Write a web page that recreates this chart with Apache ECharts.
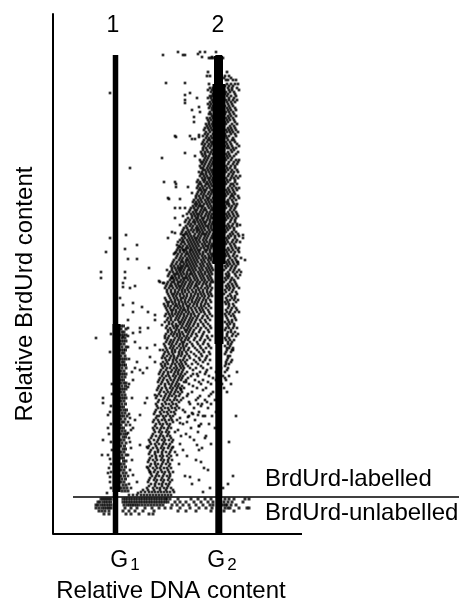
<!DOCTYPE html>
<html><head><meta charset="utf-8">
<style>html,body{margin:0;padding:0;background:#fff}#c{width:459px;height:602px}</style>
<script src="https://cdn.jsdelivr.net/npm/echarts@6/dist/echarts.min.js"></script>
</head><body><div id="c"></div>
<script>
const xTickValues = [72, 169];
const xTickLabels = ['{g|G}{s|1}', '{g|G}{s|2}'];
const peakValues = [60, 165];
const peakLabels = ['1', '2'];
const baseline = [[0, 0], [249, 0]];
const thresholdLine = [[20, 37], [406, 37]];
const g1Line = [[62.5, 0], [62.5, 479]];
const g2Line = [[165.8, 0], [165.8, 479]];
const g1Dense = [[63.5, 42], [63.5, 210]];
const g2DenseUpper = [[166, 270], [166, 450]];
const g2DenseTop = [[165.5, 450], [165.5, 478]];
const g2DenseLower = [[166, 190], [166, 270]];

const strayCells = [
[110,479],[125,482],[130,479],[132,479],[145,480],[147,482],[149,477],[152,482],[159,477],[163,482],
[113,451],[132,451],[137,441],[132,439],[132,434],[132,431],[144,436],[139,424],[146,427],[147,422],[141,417],[141,412],
[122,398],[137,398],[139,395],[142,395],[146,399],[146,397],[109,376],[132,381],[142,378],[123,397],
[77,366],[57,441],[57,296],[73,299],[53,282],[72,285],[84,289],[75,275],[84,275],[48,262],[48,256],[72,262],[72,256],
[70,251],[70,247],[77,246],[82,248],[67,236],[96,266],[106,253],[111,251],[111,352],[123,350],[123,347],[116,335],
[70,229],[80,231],[89,227],[95,222],[102,219],[80,222],[75,214],[87,206],[95,206],[102,214],[109,209],[80,201],[87,202],
[70,197],[82,192],[75,187],[87,186],[94,186],[102,189],[107,184],[97,177],[102,172],[84,172],[82,166],[87,164],[94,166],
[79,162],[90,161],[80,154],[75,147],[79,136],[94,136],[92,131],[102,139],[50,136],[50,131],[55,119],[55,106],[50,94],
[57,182],[43,196],[87,119],[82,114],[77,109],[80,106],[75,101],[87,89],[94,87],[49,79],[55,79],[55,61],[57,57],[77,64],
[80,59],[84,52],[75,79],[79,74],[94,67],[97,62],[54,41],[85,41],[137,97],[144,89],[146,84],[137,57],[124,79],[120,87],
[127,111],[135,117],[139,121],[145,119],[192,274],[188,262],[186,286],[190,296],[180,184],[184,162],[183,118],[176,92],
[175,50],[180,58],[170,46],[145,130],[150,118],[146,108],[152,96],[148,72],[150,42],[155,64],[128,145],[133,152],[140,160],
[122,352],[115,336],[122,326],[127,326],[132,326],[127,335],[135,347],[139,341],[122,316],[130,318],[127,309],[119,302],
[122,301],[130,299],[115,296],[124,289],[127,287],[122,281],[130,284],[114,264],[119,266],[107,252],[110,251],[119,256],
[127,266],[190,299],[187,309],[187,259],[185,272]
];

const g1SideRows = [
[208,[68,70.5]],[205,[68,73]],[202,[69,71]],[199,[68,70.5,73]],[196,[69,72]],[193,[68,70.5,73]],[190,[68,71]],[187,[69,73]],
[184,[68,70.5,72.5]],[181,[69,71]],[178,[68,72]],[175,[68,70.5,73]],[172,[69,71]],[169,[68,70.5,72.5]],[166,[69,73]],[163,[68,71]],
[160,[68,70.5,73]],[157,[69,72]],[154,[68,70.5]],[151,[68,71,73]],[148,[69,72.5]],[145,[68,70.5,73]],[142,[68,71]],[139,[69,72]],
[136,[68,70.5,73]],[133,[68,71]],[130,[69,72.5]],[127,[68,70.5]],[124,[68,71,73.5]],[121,[69,72]],[118,[68,70.5,74]],[115,[68,72]],
[112,[69,71]],[109,[68,73]],[106,[68,70.5]],[103,[69,72]],[100,[68,71,73.5]],[97,[70,72.5]],[94,[68,71]],[91,[69,73]],
[88,[68,71.5]],[85,[70,72.5]],[82,[68,71]],[79,[69,73]],[76,[68,70.5]],[73,[70.5,73]],[70,[68,71]],[67,[69,72.5]],
[64,[68,71]],[61,[70,73]],[58,[68,71.5]],[55,[69,72.5]],[52,[68,71]],[49,[70,73]],[46,[68,71,74]],[43,[69,72,75]]
];

const g1LeftCells = [
[58,128],[57,122],[58,110],[56,100],[58,92],[57,75],[58,70],[56,66],[58,62],[57,52],[58,46],[59,150],[59,140],[58,200],[59,84],
[76,120],[77,116],[75,112],[78,104],[76,96],[77,92],[78,86],[75,58],[76,50],[78,46],[76,150],[76,175],[75,198],[75,206]
];

const g2UpperRows = [
[476,[156,158,160,170]],
[462,[155,174]],
[458,[154,157,172,176]],
[454,[173,175,180,183]],
[450,[156,174,178,182,185]],
[446,[157,160,175,179,184]],
[442,[158,173,177,181]],
[438,[157,159,174,178,183]],
[434,[159,173,176,180,184]],
[430,[155,158,175,179]],
[426,[156,159,174,177,182]],
[422,[157,173,176,180]],
[418,[159,175,178,183]],
[414,[155,158,174,177,181]],
[410,[153,156,159,173,179,184]],
[406,[152,155,158,175,178,182]],
[402,[153,157,174,177,180,185]],
[398,[150,154,158,173,176,183]],
[394,[151,155,157,175,179,181]],
[390,[149,152,156,159,174,178,184]],
[386,[150,153,157,174,176,180,183]],
[382,[148,152,155,158,175,179,185]],
[378,[150,153,156,174,177,181]],
[374,[147,151,154,158,173,178,183,186]],
[370,[149,152,156,159,175,180,184]],
[366,[148,150,154,157,174,177,182]],
[362,[146,149,153,156,159,173,178,181,185]],
[358,[147,151,154,158,175,179,183,187]],
[354,[145,150,152,156,159,174,177,182]],
[350,[146,148,153,155,158,173,178,180,184]],
[346,[144,147,150,154,157,175,179,183,186]],
[342,[145,149,152,156,159,174,177,181]],
[338,[143,146,150,153,157,173,178,180,185]],
[334,[141,145,148,152,155,158,175,179,183]],
[330,[142,144,147,151,154,157,174,176,181,184]],
[326,[138,141,145,149,152,156,159,173,178,182]],
[322,[136,140,143,147,150,154,157,175,179,183]],
[318,[139,142,145,148,152,155,158,174,177,181,185]],
[314,[133,137,141,144,147,150,154,157,173,178,182]],
[310,[135,138,142,146,149,152,156,159,175,180,184]],
[306,[131,134,139,143,145,148,151,155,158,174,177,181]],
[302,[129,133,136,140,144,147,150,154,157,173,179,183]],
[298,[131,135,138,141,145,148,152,155,159,175,178,182,186]],
[294,[127,130,134,137,140,143,146,150,153,157,174,180,184]],
[290,[128,132,136,139,142,145,149,152,156,159,173,177,181]],
[286,[125,129,133,135,138,141,144,148,151,155,158,175,179,183]],
[282,[123,127,131,134,137,140,143,146,150,153,157,174,178,182,186]],
[278,[124,128,132,136,139,142,145,149,152,156,159,173,176,180,184]],
[274,[121,126,129,133,135,138,141,144,148,151,155,158,175,179,183]],
[270,[119,123,127,131,134,137,140,143,147,150,154,157,174,177,181,185]],
[266,[122,125,129,132,136,139,142,146,149,153,156,159,173,178,182]],
[262,[117,120,124,127,130,134,138,141,145,148,152,155,158,175,180,184]],
[258,[115,119,122,126,129,133,136,140,143,147,150,154,157,174,176,183]],
[254,[117,121,124,128,131,135,138,142,145,149,152,156,159,173,178,181]],
[250,[114,118,122,125,129,132,136,139,143,146,150,153,157,175,179,183]]
];

const g2UpperInfill = [
[456,[171,178]],[448,[172,176,180]],[444,[155,159,171,176,179,186]],[440,[160,172,175,182]],[436,[155,158,171,176,181]],[432,[157,160,174,178,182]],
[428,[157,160,172,176,180]],[424,[159,171,175,178,183]],[420,[156,158,172,177,181]],[416,[154,157,160,173,176,180]],[412,[156,160,172,175,182]],
[408,[154,157,160,171,177,181]],[404,[151,156,159,173,176,179,183]],[400,[152,155,160,172,178,182]],[396,[153,156,159,171,174,180]],[392,[150,154,158,160,173,177,182]],
[388,[151,155,158,172,175,179,186]],[384,[150,154,159,171,178,181]],[380,[149,152,157,160,173,176,183]],[376,[152,155,159,172,175,179]],[372,[148,150,153,157,160,171,176,181,185]],
[368,[147,151,155,158,173,178,182]],[364,[150,152,155,158,160,172,175,179,184]],[360,[148,150,153,157,160,171,176,180]],[356,[149,152,155,157,160,173,178,181,185]],[352,[144,147,151,154,157,160,172,175,182]],
[348,[145,149,152,156,159,171,177,181]],[344,[146,148,151,153,158,160,173,176,180,184]],[340,[144,148,151,155,158,172,175,179,182]],[336,[143,147,150,154,156,160,171,177,181,186]],[332,[140,143,146,149,153,156,159,173,175,180]],
[328,[140,143,146,148,150,155,158,172,176,179,183]],[324,[137,142,144,148,151,153,158,160,171,177,181]],[320,[134,138,141,144,146,149,153,156,159,173,176,180,184]],[316,[135,139,143,145,149,151,155,158,160,172,175,179,183]],[312,[132,136,140,142,145,148,151,153,157,160,171,177,182]],
[308,[133,137,140,144,147,150,153,155,158,173,176,179,184]],[304,[130,135,138,141,144,146,149,152,156,159,172,175,181]],[300,[128,132,134,137,142,146,149,151,153,156,160,171,177,180,185]],[296,[129,132,136,139,142,144,147,151,154,158,160,173,176,182]],[292,[125,129,131,135,138,141,144,147,151,154,157,172,175,179,183,187]],
[288,[126,130,134,137,140,143,146,150,153,155,158,160,171,178,182]],[284,[124,127,131,133,137,139,142,145,147,152,154,157,173,176,180,185]],[280,[121,125,129,133,135,138,141,144,147,150,155,158,160,172,175,181]],[276,[123,127,130,134,137,140,143,146,150,153,156,158,171,177,182,188]],[272,[120,124,128,130,133,136,139,142,145,149,152,156,160,173,176,180,184]],
[268,[118,121,125,128,130,133,135,138,141,144,148,151,155,158,172,175,179,183]],[264,[119,123,126,128,131,135,137,140,143,147,150,154,157,160,171,177,181,186]],[260,[116,121,123,125,128,131,134,137,139,142,146,149,152,156,159,173,176,182]],[256,[118,120,123,126,130,132,134,137,141,144,148,151,155,158,172,175,179,185]],[252,[115,119,121,125,127,130,133,137,140,144,147,151,154,158,160,171,177,182]],[248,[113,117,119,123,126,128,131,135,138,142,144,149,154,157,173,176,180,184]]
];

const sPhaseRows = [
[246,[112,116,120,124,127,130,134,137,141,145,148,152,155,159,174,177,181,186]],
[242,[114,118,122,125,129,132,136,140,143,147,150,154,157,173,179,183]],
[238,[116,120,123,127,131,134,138,141,145,149,152,156,159,175,178,182]],
[234,[113,118,122,125,128,132,136,139,143,146,150,153,157,174,177,181,185]],
[230,[111,115,120,123,126,130,133,137,141,144,148,152,155,173,176,180]],
[226,[113,117,121,125,128,131,135,138,142,146,149,153,158,175,179,183]],
[222,[115,119,123,126,129,133,136,140,144,148,151,156,174,177,182,186]],
[218,[112,117,120,124,127,131,134,138,142,145,150,154,159,173,178,181]],
[214,[114,118,122,125,129,132,136,139,143,147,152,157,175,179,183]],
[210,[116,119,123,127,130,134,137,141,145,150,155,174,177,181]],
[206,[113,117,121,124,128,131,135,138,143,148,153,158,173,176,180,184]],
[202,[115,119,122,126,129,133,136,140,146,151,156,175,178,182]],
[198,[112,116,120,124,127,131,134,138,144,149,154,159,174,179,183]],
[194,[114,118,121,125,128,132,135,141,147,152,157,173,177,181]],
[190,[111,116,119,123,127,130,134,139,145,150,155,175,178]],
[186,[113,117,120,124,128,131,136,142,148,153,158,174,176,180]],
[182,[112,115,119,122,126,129,133,138,146,151,156,173,178]],
[178,[110,114,118,121,125,128,132,136,143,149,154,175,177]],
[174,[113,116,120,123,127,130,134,141,147,152,157,174,179]],
[170,[108,112,115,119,122,126,129,133,139,145,155,173,176]],
[166,[110,114,117,121,124,128,131,137,143,150,158,168,175]],
[162,[107,111,115,118,122,125,129,134,147,153,163,172]],
[158,[109,113,116,120,123,127,130,138,145,156,170,176]],
[154,[106,110,114,118,121,125,128,133,142,150,163,173]],
[150,[108,112,116,119,123,126,136,148,158,169,178]],
[146,[105,109,113,117,120,124,127,131,144,153,171]],
[142,[107,111,115,118,122,125,129,139,160,174]],
[138,[104,108,112,116,119,123,126,134,147,156,166]],
[134,[106,110,114,117,121,124,128,143,152,162]],
[130,[103,109,113,116,120,123,137,149,158]],
[126,[105,108,112,115,119,122,126,141,155]],
[122,[102,107,111,114,118,121,132,146,163]],
[118,[104,106,110,113,117,120,136,152,159]],
[114,[101,105,109,112,116,119,124,142]],
[110,[103,107,110,114,117,130,148,156]],
[106,[100,104,108,111,115,118,138,162]],
[102,[102,106,109,113,116,122,145]],
[98,[99,103,107,110,114,117,128,153]],
[94,[96,101,105,109,112,116,120,141]],
[90,[98,102,106,110,113,117,127,158]],
[86,[95,100,104,108,111,115,119,149]],
[82,[97,102,105,109,113,117,122]],
[78,[99,103,107,110,114,118,134]],
[74,[96,100,104,108,111,115,119,143]],
[70,[98,102,105,109,113,117,126]],
[66,[95,100,104,107,111,114,118,151]],
[62,[97,101,105,109,112,116,120]],
[58,[99,103,106,110,114,117,132]],
[54,[96,101,104,108,111,115,119,146]],
[50,[98,102,106,109,113,116,139]],
[46,[94,100,104,107,111,114,118,157]],
[42,[88,92,96,99,102,105,108,111,114,117,121]],
[39,[76,80,84,88,91,94,97,100,103,106,109,112,115,118]]
];

const sPhaseInfill = [
[244,[114,118,122,126,129,132,135,139,143,146,150,154,158,172,176,180]],[240,[115,119,121,124,127,130,134,138,142,145,148,151,155,158,171,177,184]],[236,[112,117,121,124,128,130,133,137,140,144,147,151,155,173,179,182]],
[232,[114,116,119,122,126,129,132,135,139,142,145,149,153,158,172,175,183]],[228,[112,115,118,122,124,127,130,134,136,140,144,148,151,156,176,181]],[224,[114,118,120,123,127,130,132,135,139,143,147,150,155,173,178,184]],
[220,[113,116,119,122,125,128,131,135,138,141,146,152,157,172,176,180]],[216,[115,118,123,126,130,133,137,140,144,149,155,174,182]],[212,[112,116,120,126,128,131,135,138,142,148,153,172,176,179]],
[208,[114,120,123,125,129,133,136,140,145,151,157,175,181]],[204,[115,118,123,126,132,134,137,141,147,155,172,178]],[200,[113,118,121,124,127,130,135,139,143,150,174,180,185]],
[196,[112,115,122,126,129,133,136,142,148,155,172,176]],[192,[113,117,120,124,129,131,137,144,151,175,179]],[188,[112,118,121,126,130,133,140,147,156,172,177]],
[184,[110,114,119,122,127,131,135,144,150,174,179]],[180,[111,116,120,126,129,134,141,148,157,172]],[176,[109,112,117,121,124,131,137,146,153,175]],
[172,[110,114,120,124,128,132,143,150,173,178]],[168,[109,112,118,123,127,130,135,148,172]],[164,[108,113,119,123,126,130,140,154,174]],
[160,[106,110,115,121,125,128,132,144,152]],[156,[107,111,117,122,126,129,135,160,172]],[152,[105,109,115,120,124,131,146,155]],
[148,[106,112,118,122,125,129,140,165]],[144,[104,108,114,119,123,128,150]],[140,[106,113,117,121,127,135,158]],
[136,[103,111,115,122,130,145]],[132,[105,112,119,126,136,154]],[128,[104,110,118,124,148]],
[124,[103,109,116,123,130]],[120,[101,108,115,122,140]],[116,[103,111,118,127]],
[112,[100,106,113,120,134]],[108,[102,109,116,146]],[104,[101,107,114,125]],
[100,[100,108,115,133]],[96,[98,106,111,118]],[92,[97,104,111,119]],
[88,[96,103,109,116]],[84,[98,105,110,118,130]],[80,[96,102,109,116]],
[76,[97,103,109,116]],[72,[95,102,110,115]],[68,[97,103,108,116]],
[64,[96,102,108,115]],[60,[98,104,111,117]],[56,[97,102,109,116]],
[52,[95,103,110,117]],[48,[96,102,109,115]],[44,[90,95,101,107,113,120]]
];

const unlabelledRows = [
[35,[48,50,52,54,56,58,70,72.5,75,77.5,80,82.5,85,87.5,90,92.5,95,97.5,100,102.5,105,107.5,110,112.5,114,117,125,138,145,152,158,172,176,181,192,196]],
[32,[45,47,50,52.5,55,57.5,70,72.5,75,77.5,80,82.5,85,87.5,90,92.5,95,97.5,100,102.5,105,107.5,110,112.5,115,122,127,133,141,148,155,160,171,175,179,190]],
[29,[43,45,48,50.5,53,55.5,58,71,74,76.5,79,81,83.5,86,89,92,95,98,101,104,107,110,119,124,130,136,143,150,157,160,170,172.5,174,178,183]],
[26,[43,46,49,51.5,54,56,58,72,78,84,92,99,106,112,118,127,137,146,153,159,172,175,177,186,194,196]],
[23,[46,49,52,56,70,76,82,90,101,125,133,143,158,171,181]],
[20,[51,56,73,78,86,96,100]]
];

const flatten = rows => rows.flatMap(r => r[1].map(x => [x, r[0]]));
const cellSeries = (name, data, size) => ({
  name, type: 'scatter', data, symbol: 'rect', symbolSize: size || 3,
  itemStyle: { color: '#000' }, silent: true, animation: false
});
const lineSeries = (name, data, width) => ({
  name, type: 'line', data, showSymbol: false,
  lineStyle: { color: '#000', width, cap: 'butt' }, silent: true, animation: false
});

const chart = echarts.init(document.getElementById('c'), null, { renderer: 'canvas' });
const font = '"Liberation Sans", Arial, sans-serif';
chart.setOption({
  animation: false,
  backgroundColor: '#fff',
  textStyle: { fontFamily: font, color: '#000' },
  grid: { left: 53, top: 14, width: 406, height: 520, outerBoundsMode: 'none' },
  xAxis: [{
    type: 'value', min: 0, max: 406, position: 'bottom',
    name: 'Relative DNA content', nameLocation: 'middle', nameGap: 44,
    nameTextStyle: { fontSize: 24, color: '#000', fontFamily: font, padding: [0, 170, 0, 0] },
    axisLine: { show: false },
    axisTick: { show: false }, splitLine: { show: false },
    axisLabel: {
      customValues: xTickValues, margin: 14,
      formatter: v => xTickLabels[xTickValues.indexOf(v)],
      rich: {
        g: { fontSize: 23, fontFamily: font, color: '#000' },
        s: { fontSize: 17, fontFamily: font, color: '#000', verticalAlign: 'bottom', padding: [9, 0, 0, 2] }
      }
    }
  }, {
    type: 'value', min: 0, max: 406, position: 'top',
    axisLine: { show: false }, axisTick: { show: false }, splitLine: { show: false },
    axisLabel: {
      customValues: peakValues, inside: true, margin: 0, fontSize: 23, color: '#000', fontFamily: font,
      formatter: v => peakLabels[peakValues.indexOf(v)]
    }
  }],
  yAxis: {
    type: 'value', min: 0, max: 520,
    name: 'Relative BrdUrd content', nameLocation: 'middle', nameGap: 16,
    nameTextStyle: { fontSize: 24, color: '#000', fontFamily: font, padding: [0, 40, 0, 0] },
    axisLine: { show: true, lineStyle: { color: '#000', width: 2 } },
    axisTick: { show: false }, splitLine: { show: false }, axisLabel: { show: false }
  },
  graphic: [
    { type: 'text', left: 265, top: 467, style: { text: 'BrdUrd-labelled', font: '24px ' + font, fill: '#000' } },
    { type: 'text', left: 265, top: 501, style: { text: 'BrdUrd-unlabelled', font: '24px ' + font, fill: '#000' } }
  ],
  series: [
    lineSeries('Baseline', baseline, 2),
    lineSeries('G1', g1Line, 5.5),
    lineSeries('G2', g2Line, 7),
    lineSeries('G1 dense', g1Dense, 8),
    lineSeries('G2 dense', g2DenseUpper, 13),
    lineSeries('G2 dense top', g2DenseTop, 9),
    lineSeries('G2 dense lower', g2DenseLower, 9),
    cellSeries('stray', strayCells, 2.7),
    cellSeries('G1 side', flatten(g1SideRows)),
    cellSeries('G1 left', g1LeftCells, 2.7),
    cellSeries('G2 upper', flatten(g2UpperRows), 2.8),
    cellSeries('G2 upper infill', flatten(g2UpperInfill), 2.8),
    cellSeries('S phase', flatten(sPhaseRows), 2.7),
    cellSeries('S phase infill', flatten(sPhaseInfill), 2.7),
    cellSeries('unlabelled', flatten(unlabelledRows)),
    lineSeries('threshold', thresholdLine, 1.5)
  ]
});
</script></body></html>
